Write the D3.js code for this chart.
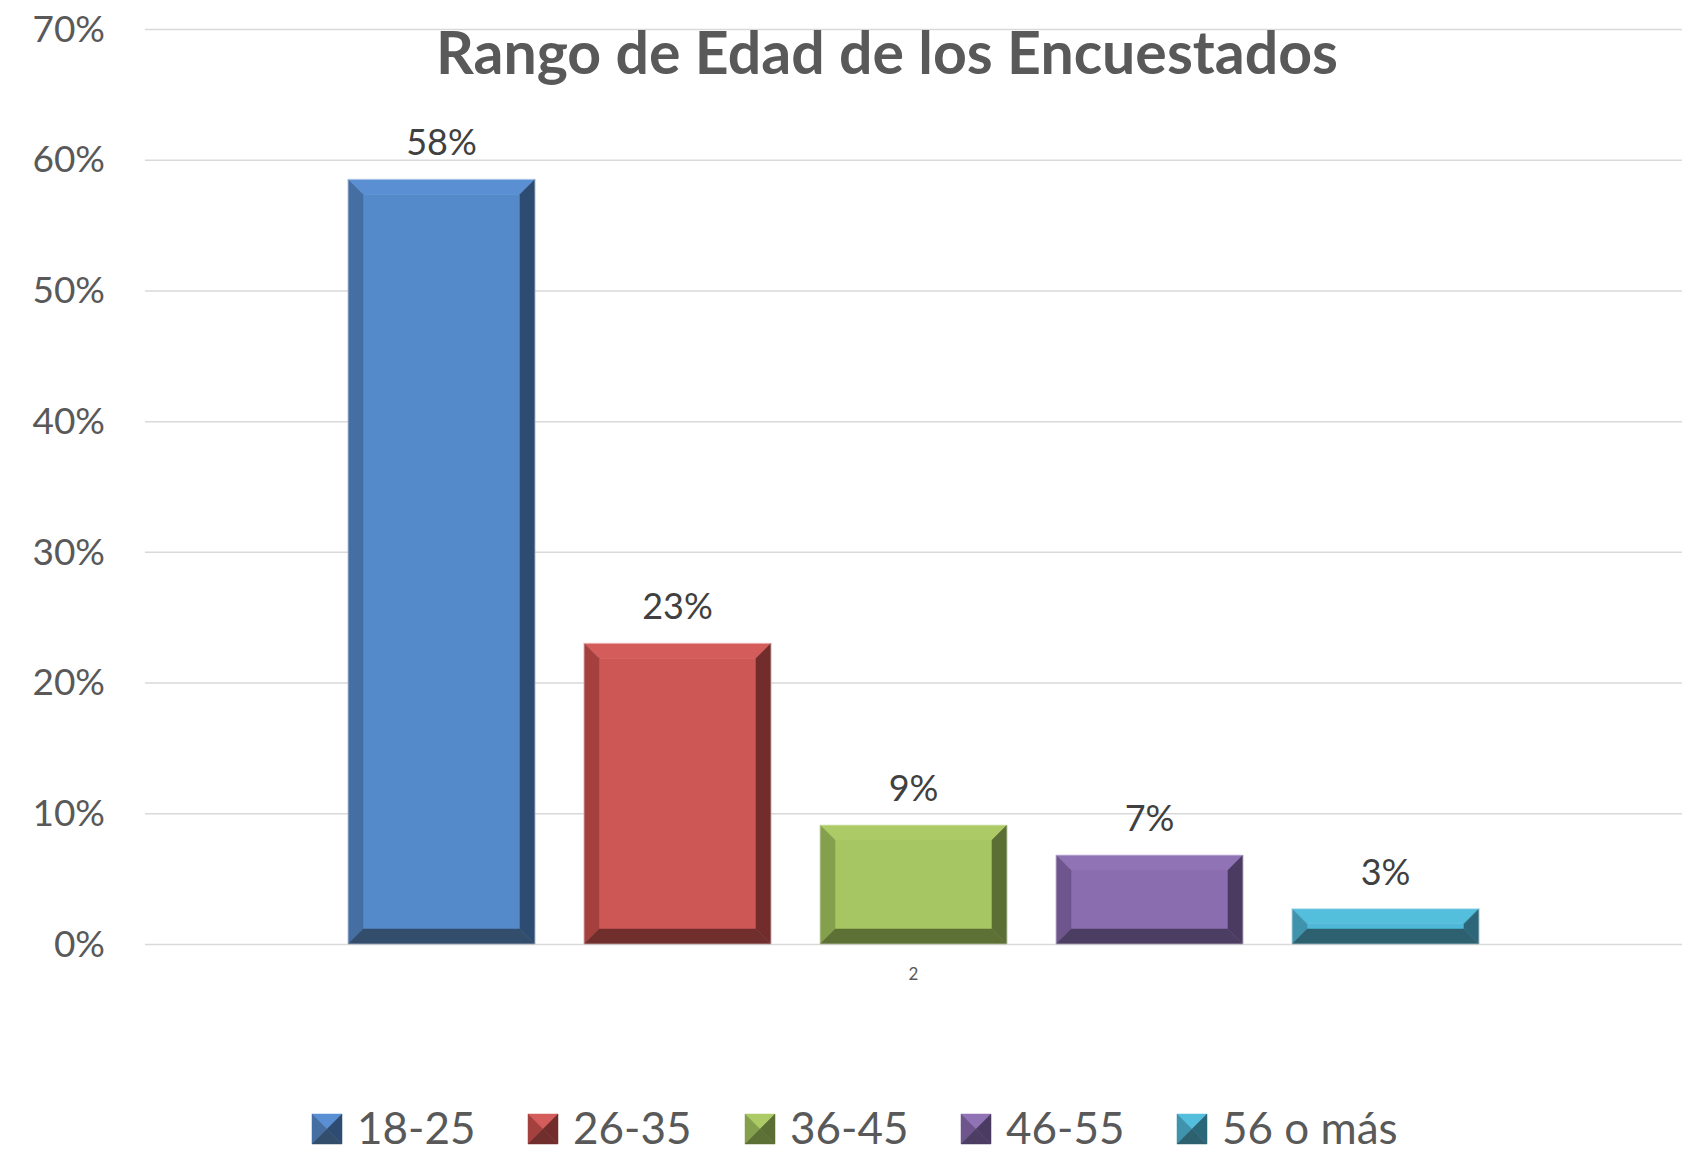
<!DOCTYPE html>
<html>
<head>
<meta charset="utf-8">
<script src="https://cdn.jsdelivr.net/npm/d3@7"></script>
<style>
  body { margin: 0; background: #fff; }
  text { font-family: Lato, "Open Sans", sans-serif; }
</style>
</head>
<body>
<div id="chart"></div>
<script>
var series = ["18-25", "26-35", "36-45", "46-55", "56 o más"];
var values = [0.585, 0.23, 0.091, 0.068, 0.027];
var dataLabels = ["58%", "23%", "9%", "7%", "3%"];
var categories = ["2"];
var yTicks = [0, 0.1, 0.2, 0.3, 0.4, 0.5, 0.6, 0.7];

/* face, top, left, right, bottom */
var palette = [
    ["#558aca", "#5a90d3", "#456fa3", "#2e4c71", "#334d6c"],
    ["#cd5755", "#d45c5a", "#a4403e", "#722c2b", "#702e2c"],
    ["#a6c563", "#accb67", "#85a04c", "#5b6e33", "#5d7035"],
    ["#8a6dae", "#9073b5", "#6f558e", "#4b3a62", "#4c3d62"],
    ["#4fb8d8", "#54bedd", "#3f93ad", "#2b6778", "#2e6170"]
];

var width = 1698,
    height = 1153,
    plotLeft = 145, plotRight = 1682,
    plotTop = 29, plotBottom = 944;

var svg = d3.select("#chart")
    .append("svg")
    .attr("width", width)
    .attr("height", height);

var y = d3.scaleLinear().domain([0, 0.7]).range([plotBottom, plotTop]);

var x0 = d3.scaleBand().domain(categories).range([plotLeft, plotRight]);

var x1 = d3.scaleBand()
    .domain(series)
    .range([x0("2") + 178.5, x0("2") + x0.bandwidth() - 178.5])
    .paddingInner(0.208)
    .paddingOuter(0.104);

/* grid + y axis */
var yAxis = svg.append("g")
    .attr("transform", "translate(" + plotLeft + ",0)")
    .call(d3.axisLeft(y).tickValues(yTicks).tickFormat(d3.format(".0%"))
        .tickSize(-(plotRight - plotLeft)).tickPadding(40));
yAxis.select(".domain").remove();
yAxis.selectAll("line").attr("stroke", "#d9d9d9").attr("stroke-width", 1.5);
yAxis.selectAll("text")
    .attr("fill", "#595959")
    .attr("font-size", 37)
    .attr("font-family", "Lato, 'Open Sans', sans-serif")
    .attr("dy", "0.33em");

/* category axis */
var xAxis = svg.append("g")
    .attr("transform", "translate(0," + plotBottom + ")")
    .call(d3.axisBottom(x0).tickSize(0).tickPadding(24));
xAxis.select(".domain").remove();
xAxis.selectAll("text")
    .attr("fill", "#595959")
    .attr("font-size", 17)
    .attr("font-family", "Lato, 'Open Sans', sans-serif");

/* bevelled bars */
var bars = svg.append("g")
    .selectAll("g")
    .data(series)
    .enter().append("g");

bars.each(function(s, i) {
    var g = d3.select(this);
    var bx = x1(s), bw = x1.bandwidth();
    var by = y(values[i]), bh = y(0) - y(values[i]);
    var b = Math.min(15, bh / 2);
    var c = palette[i];
    var polys = [
        [[bx + b, by + b], [bx + bw - b, by + b], [bx + bw - b, by + bh - b], [bx + b, by + bh - b]],
        [[bx, by], [bx + bw, by], [bx + bw - b, by + b], [bx + b, by + b]],
        [[bx, by], [bx + b, by + b], [bx + b, by + bh - b], [bx, by + bh]],
        [[bx + bw, by], [bx + bw - b, by + b], [bx + bw - b, by + bh - b], [bx + bw, by + bh]],
        [[bx, by + bh], [bx + bw, by + bh], [bx + bw - b, by + bh - b], [bx + b, by + bh - b]]
    ];
    g.selectAll("path")
        .data(polys)
        .enter().append("path")
        .attr("d", function(p) { return "M" + p.join("L") + "Z"; })
        .attr("fill", function(p, k) { return c[k]; })
        .attr("stroke", function(p, k) { return c[k]; })
        .attr("stroke-width", 0.5);
    g.append("rect")
        .attr("x", bx).attr("y", by)
        .attr("width", bw).attr("height", bh)
        .attr("fill", "none")
        .attr("stroke", "#ffffff")
        .attr("stroke-opacity", 0.45)
        .attr("stroke-width", 1);
    g.append("text")
        .attr("x", bx + bw / 2)
        .attr("y", by - 24)
        .attr("text-anchor", "middle")
        .attr("font-size", 36)
        .attr("fill", "#404040")
        .text(dataLabels[i]);
});

/* title */
svg.append("text")
    .attr("x", 887)
    .attr("y", 74)
    .attr("text-anchor", "middle")
    .attr("font-size", 59)
    .attr("font-weight", "bold")
    .attr("fill", "#595959")
    .text("Rango de Edad de los Encuestados");

/* legend */
var legendX = [312, 528, 745, 961, 1177];
var sw = 30;
var legend = svg.append("g")
    .selectAll("g")
    .data(series)
    .enter().append("g")
    .attr("transform", function(d, i) { return "translate(" + legendX[i] + ",1114)"; });

legend.each(function(s, i) {
    var g = d3.select(this);
    var c = palette[i];
    var h = sw / 2;
    var tris = [
        [[0, 0], [sw, 0], [h, h]],
        [[0, 0], [h, h], [0, sw]],
        [[0, sw], [h, h], [sw, sw]],
        [[sw, 0], [h, h], [sw, sw]]
    ];
    var cols = [c[1], c[2], c[4], c[3]];
    g.selectAll("path")
        .data(tris)
        .enter().append("path")
        .attr("d", function(p) { return "M" + p.join("L") + "Z"; })
        .attr("fill", function(p, k) { return cols[k]; })
        .attr("stroke", function(p, k) { return cols[k]; })
        .attr("stroke-width", 0.5);
    g.append("text")
        .attr("x", 45)
        .attr("y", 30)
        .attr("font-size", 44)
        .attr("fill", "#595959")
        .text(s);
});
</script>
</body>
</html>
